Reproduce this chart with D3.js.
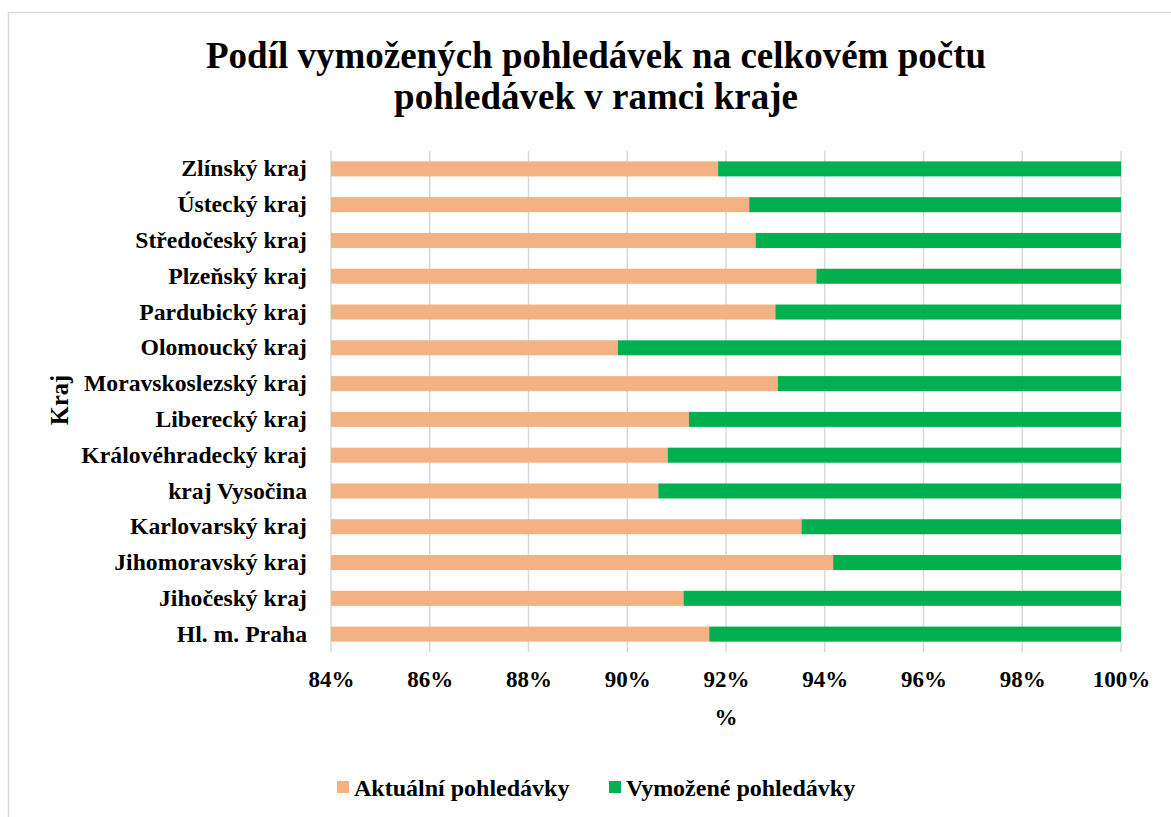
<!DOCTYPE html>
<html>
<head>
<meta charset="utf-8">
<script src="https://cdn.jsdelivr.net/npm/d3@7"></script>
<style>
  body { margin: 0; background: #fff; }
  text { font-family: 'Liberation Serif', 'Times New Roman', serif; font-weight: bold; fill: #000; }
</style>
</head>
<body>
<div id="chart"></div>
<script>
// categories, top to bottom as drawn
const regions = [
  'Zlínský kraj', 'Ústecký kraj', 'Středočeský kraj', 'Plzeňský kraj',
  'Pardubický kraj', 'Olomoucký kraj', 'Moravskoslezský kraj', 'Liberecký kraj',
  'Královéhradecký kraj', 'kraj Vysočina', 'Karlovarský kraj', 'Jihomoravský kraj',
  'Jihočeský kraj', 'Hl. m. Praha',
];
// share of current receivables (rest up to 100 % is recovered)
const aktualni = [
  0.9184, 0.9247, 0.9260, 0.9383, 0.9300, 0.8981, 0.9305, 0.9125,
  0.9082, 0.9063, 0.9353, 0.9417, 0.9114, 0.9166,
];
const vymozene = aktualni.map((a) => 1 - a);
const seriesNames = ['Aktuální pohledávky', 'Vymožené pohledávky'];
const tickValues = [0.84, 0.86, 0.88, 0.90, 0.92, 0.94, 0.96, 0.98, 1.0];

const width = 1171;
const height = 817;
const colors = ['#F4B183', '#00B050'];

const svg = d3.select('#chart')
  .append('svg')
  .attr('width', width)
  .attr('height', height);

// chart area border (runs off the right and bottom)
svg.append('rect')
  .attr('x', 8.5).attr('y', 12.5)
  .attr('width', 1180).attr('height', 830)
  .attr('fill', 'none')
  .attr('stroke', '#D9D9D9')
  .attr('stroke-width', 1.5);

const plot = { left: 331, right: 1121, top: 151, bottom: 652 };

const xScale = d3.scaleLinear()
  .domain([0.84, 1])
  .range([plot.left, plot.right])
  .clamp(true);

const yScale = d3.scaleBand()
  .domain(regions)
  .range([plot.top, plot.bottom])
  .paddingInner(0.58)
  .paddingOuter(0.29);

// gridlines
svg.append('g')
  .selectAll('line')
  .data(tickValues)
  .join('line')
  .attr('x1', (d) => xScale(d))
  .attr('x2', (d) => xScale(d))
  .attr('y1', plot.top)
  .attr('y2', plot.bottom)
  .attr('stroke', '#D9D9D9')
  .attr('stroke-width', 1.5);

const table = regions.map((r, i) => ({ region: r, a: aktualni[i], v: vymozene[i] }));
const stacked = d3.stack().keys(['a', 'v'])(table);

stacked.forEach((layer, index) => {
  svg.append('g')
    .attr('fill', colors[index])
    .selectAll('rect')
    .data(layer)
    .join('rect')
    .attr('x', (d) => xScale(d[0]))
    .attr('y', (d) => yScale(d.data.region))
    .attr('width', (d) => xScale(d[1]) - xScale(d[0]))
    .attr('height', yScale.bandwidth());
});

// x axis labels
const xAxis = (g) => {
  g.attr('transform', `translate(0, ${plot.bottom})`)
    .call(d3.axisBottom(xScale).tickValues(tickValues).tickFormat(d3.format('.0%')).tickSize(0).tickPadding(19));
  g.select('.domain').remove();
  g.selectAll('text').attr('font-size', 23).attr('font-family', null).attr('dy', '0.71em');
};

// y axis labels
const yAxis = (g) => {
  g.attr('transform', `translate(${plot.left}, 0)`)
    .call(d3.axisLeft(yScale).tickSize(0).tickPadding(24));
  g.select('.domain').remove();
  g.selectAll('text').attr('font-size', 23.7).attr('font-family', null);
};

svg.append('g').call(xAxis);
svg.append('g').call(yAxis);

// title
const title = svg.append('text')
  .attr('text-anchor', 'middle')
  .attr('font-size', 37);
title.append('tspan').attr('x', 596).attr('y', 68).text('Podíl vymožených pohledávek na celkovém počtu');
title.append('tspan').attr('x', 596).attr('y', 109).text('pohledávek v ramci kraje');

// axis titles
svg.append('text')
  .attr('text-anchor', 'middle')
  .attr('x', (plot.left + plot.right) / 2)
  .attr('y', 725)
  .attr('font-size', 23)
  .text('%');

svg.append('text')
  .attr('text-anchor', 'middle')
  .attr('transform', 'translate(68, 400) rotate(-90)')
  .attr('font-size', 24.5)
  .text('Kraj');

// legend
const legendItems = [
  { name: seriesNames[0], color: colors[0], x: 337 },
  { name: seriesNames[1], color: colors[1], x: 609 },
];
legendItems.forEach((item) => {
  svg.append('rect')
    .attr('x', item.x).attr('y', 781)
    .attr('width', 12).attr('height', 12)
    .attr('fill', item.color);
  svg.append('text')
    .attr('x', item.x + 17)
    .attr('y', 796)
    .attr('font-size', 24)
    .text(item.name);
});
</script>
</body>
</html>
